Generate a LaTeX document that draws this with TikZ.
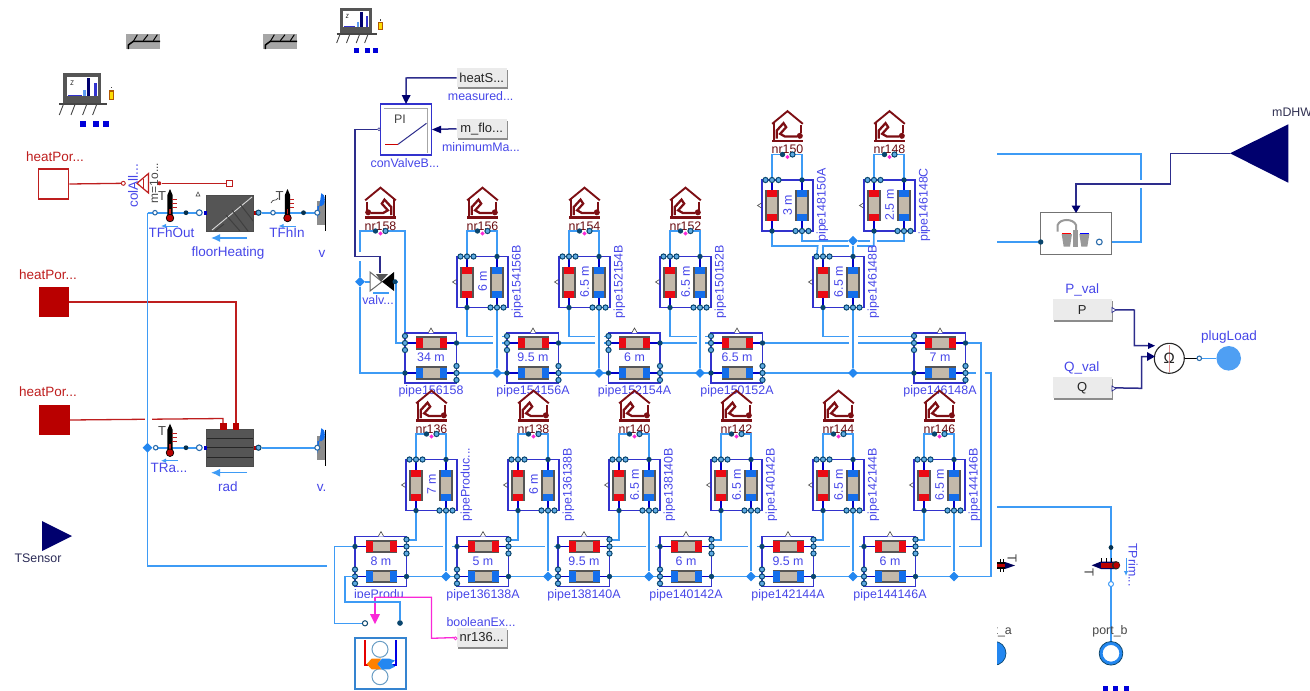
\documentclass[tikz,border=0pt]{standalone}
\usepackage{fontspec}
\setmainfont{Liberation Sans}
\usetikzlibrary{shapes.geometric,arrows.meta}
\definecolor{wireb}{RGB}{62,155,245}
\definecolor{ctrl}{RGB}{45,45,140}
\definecolor{navy}{RGB}{0,0,110}
\definecolor{lblb}{RGB}{70,70,232}
\definecolor{boxb}{RGB}{50,50,205}
\definecolor{stubb}{RGB}{0,0,200}
\definecolor{portd}{RGB}{10,70,110}
\definecolor{portl}{RGB}{95,170,225}
\definecolor{heat}{RGB}{190,30,30}
\definecolor{heatd}{RGB}{185,0,0}
\definecolor{pipered}{RGB}{235,10,20}
\definecolor{pipeblue}{RGB}{20,110,235}
\definecolor{pipemid}{RGB}{195,185,170}
\definecolor{pipedk}{RGB}{85,85,85}
\definecolor{housec}{RGB}{125,15,20}
\definecolor{pinkc}{RGB}{250,40,215}
\definecolor{jblue}{RGB}{35,135,240}
\definecolor{hxgray}{RGB}{85,85,85}
\definecolor{dkt}{RGB}{70,70,70}
\pgfdeclarelayer{wires}
\pgfsetlayers{wires,main}
\tikzset{
 wire/.style={draw=wireb,line width=1.6pt},
 ctl/.style={draw=ctrl,line width=1.5pt},
 hwire/.style={draw=heat,line width=1.3pt},
 pink/.style={draw=pinkc,line width=1.3pt},
 stub/.style={draw=stubb,line width=1.6pt},
 blkbox/.style={draw=boxb,line width=1.2pt,inner sep=0pt},
 lbl/.style={text=lblb,inner sep=0pt,font=\fontsize{12.4}{14}\selectfont},
 biglbl/.style={text=lblb,inner sep=0pt,font=\fontsize{13.5}{15}\selectfont},
 heatlbl/.style={text=heat,inner sep=0pt,font=\fontsize{13.5}{15}\selectfont},
 nrlbl/.style={text=housec!85!black,inner sep=0pt,font=\fontsize{12.4}{14}\selectfont},
 graylbl/.style={text=dkt,inner sep=0pt,font=\fontsize{13}{15}\selectfont},
 ptl/.style={circle,draw=portd,fill=portl,line width=1pt,inner sep=0pt,minimum size=5.2pt},
 ptw/.style={circle,draw=wireb!70!black,fill=white,line width=1.1pt,inner sep=0pt,minimum size=5.8pt},
 ptd/.style={circle,fill=portd,inner sep=0pt,minimum size=5.4pt},
 junc/.style={diamond,fill=jblue,inner sep=0pt,minimum size=10pt},
 blk/.style={circle,fill=portd!70!black,inner sep=0pt,minimum size=4.8pt},
 btn/.style={fill=black!8,inner sep=0pt,text=black!85,font=\fontsize{13}{15}\selectfont},
}
% pipes
\newcommand{\hpipe}[3]{\begin{scope}[shift={(#1,#2)}]
 \fill[pipedk] (-15.5,-6.7) rectangle (15.5,6.7);
 \fill[pipemid] (-15.5,-4.6) rectangle (15.5,4.6);
 \fill[#3] (-15.5,-5.2) rectangle (-8.5,5.2);
 \fill[#3] (8.5,-5.2) rectangle (15.5,5.2);
\end{scope}}
\newcommand{\vpipe}[3]{\begin{scope}[shift={(#1,#2)}]
 \fill[pipedk] (-6.7,-15.5) rectangle (6.7,15.5);
 \fill[pipemid] (-4.6,-15.5) rectangle (4.6,15.5);
 \fill[#3] (-5.2,-15.5) rectangle (5.2,-8.5);
 \fill[#3] (-5.2,8.5) rectangle (5.2,15.5);
\end{scope}}
% horizontal block: id,x,y,len,name,mode (0=top row,1=bottom row)
\newcommand{\hblk}[6]{\begin{scope}[shift={(#2,#3)}]
 \node[blkbox,minimum width=51.5pt,minimum height=50pt] (#1) at (25.75,25) {};
 \draw[stub] (0,10)--(51,10); \draw[stub] (0,40)--(51,40);
 \hpipe{26}{10}{pipered}\hpipe{26}{40}{pipeblue}
 \node[lbl] (#1-len) at (26,24.5) {#4};
 \node[lbl] (#1-name) at (26,58.5) {#5};
 \fill[white] (23.5,0) -- (26,-5) -- (28.5,0) -- cycle;
 \draw[dkt,line width=.6pt] (23.5,-.5) -- (26,-5) -- (28.5,-.5);
 \coordinate (#1-ul) at (0,10); \coordinate (#1-ur) at (51.5,10);
 \coordinate (#1-ll) at (0,40); \coordinate (#1-lr) at (51.5,40);
 \coordinate (#1-lt) at (0,3.5); \coordinate (#1-rt) at (51.5,3.5);
 \ifnum#6=0
  \node[ptl] at (0,3){};\node[ptl] at (0,10){};\node[ptl] at (0,17){};\node[ptd] at (51.5,10){};
  \node[ptd] at (0,40){};\node[ptl] at (51.5,33){};\node[ptl] at (51.5,40){};\node[ptl] at (51.5,47){};
 \else
  \node[ptd] at (0,10){};\node[ptl] at (51.5,3){};\node[ptl] at (51.5,10){};\node[ptl] at (51.5,17){};
  \node[ptl] at (0,33){};\node[ptl] at (0,40){};\node[ptl] at (0,47){};\node[ptd] at (51.5,40){};
 \fi
\end{scope}}
% vertical block: id,x,y,len,name
\newcommand{\vblk}[5]{\begin{scope}[shift={(#2,#3)}]
 \node[blkbox,minimum width=51pt,minimum height=51pt] (#1) at (25.5,25.5) {};
 \draw[stub] (10,0)--(10,51); \draw[stub] (40,0)--(40,51);
 \vpipe{10}{25.5}{pipered}\vpipe{40}{25.5}{pipeblue}
 \node[lbl,rotate=90] (#1-len) at (25.5,25) {#4};
 \node[lbl,rotate=90] (#1-name) at (60.5,25) {#5};
 \draw[dkt,line width=.6pt] (-.5,23) -- (-4.5,25.5) -- (-.5,28);
 \coordinate (#1-tl) at (10,0); \coordinate (#1-tr) at (40,0);
 \coordinate (#1-bl) at (10,51); \coordinate (#1-br) at (40,51);
 \coordinate (#1-ta) at (3.7,0);
 \node[ptl] at (3.5,0){};\node[ptl] at (10,0){};\node[ptl] at (16.5,0){};\node[ptd] at (40,0){};
 \node[ptd] at (10,51){};\node[ptl] at (33.5,51){};\node[ptl] at (40,51){};\node[ptl] at (46.5,51){};
\end{scope}}
% house: id,cx,top,name,mirror(+1/-1)
\newcommand{\house}[5]{\begin{scope}[shift={(#2,#3)}]
 \begin{scope}[xscale=#5/3,yscale=1/3]
  \draw[housec,line width=1.9pt] (-46,40) -- (0,2) -- (46,40);
  \draw[housec,line width=1.9pt] (-41,34) -- (-41,88);
  \draw[housec,line width=1.9pt] (40,44) -- (40,68);
  \draw[housec,line width=2.6pt] (-46,91) -- (46,91);
  \fill[housec] (37,76) circle (9);
  \draw[housec,line width=2.3pt] (-32,84) -- (-32,60) -- (-12,38) -- (-4,50) -- (-22,70) -- (-8,78) -- (28,78);
 \end{scope}
 \node[nrlbl] (#1-lab) at (0,39) {#4};
 \coordinate (#1-a) at (-5,44); \coordinate (#1-b) at (5,44);
 \node[ptd] (#1-pa) at (-5,44) {};
 \node[ptl] (#1-pb) at (5,44) {};
 \node[diamond,fill=pinkc,inner sep=0pt,minimum size=4.5pt] (#1-pk) at (0,46.5) {};
\end{scope}}
% thermometer vertical
\newcommand{\thermo}[3]{\begin{scope}[shift={(#2,#3)}]
 \fill[black] (0,-24) -- (2.6,-18) -- (2.6,4) -- (-2.6,4) -- (-2.6,-18) -- cycle;
 \draw[heat,line width=1pt] (2,-14)--(6.5,-14) (2,-10)--(6.5,-10) (2,-6)--(6.5,-6);
 \draw[heat,line width=1.2pt] (0,-4)--(0,4);
 \fill[heatd] (0,5) circle (3.8);
 \draw[black,line width=.7pt] (0,5) circle (3.8);
 \node[graylbl] (#1-T) at (-8,-17) {T};
 \draw[wireb,line width=1pt,-{Latex[length=5pt,width=4.5pt]}] (8,13) -- (-9,13);
\end{scope}}
% button
\newcommand{\button}[6]{\fill[black!45] (#2+1.5,#3+1.5) rectangle (#2+#4+1.2,#3+#5+1.6);
 \node[btn,minimum width=#4 pt,minimum height=#5 pt] (#1) at (#2+#4/2,#3+#5/2) {#6};}
% monitor
\newcommand{\monitor}[3]{\begin{scope}[shift={(#1,#2)},scale=#3]
 \fill[hxgray] (0,0) rectangle (113,90);
 \fill[white] (12,10) rectangle (103,68);
 \fill[pipeblue!70] (60,50) rectangle (67,68);
 \fill[navy] (72,14) rectangle (81,68);
 \fill[boxb] (92,30) rectangle (100,68);
 \draw[boxb,line width=.9pt] (15,65) -- (55,65);
 \draw[dkt,line width=.5pt] (22,22) -- (30,22) -- (22,34) -- (30,34);
 \draw[dkt,line width=1.6pt] (-12,92) -- (132,92);
 \foreach \q in {0,35,70,100} \draw[dkt,line width=.9pt] (\q,94) -- (\q-12,125);
 \fill[orange!70!black] (137,50) rectangle (153,80);
 \fill[yellow!80!orange] (141,55) rectangle (149,76);
 \fill[dkt] (143,40) rectangle (147,45);
 \fill[blue!85!black] (51,144) rectangle (69,162);
 \fill[blue!85!black] (88,144) rectangle (106,162);
 \fill[blue!85!black] (118,144) rectangle (136,162);
\end{scope}}
% wall
\newcommand{\wallicon}[2]{\begin{scope}[shift={(#1,#2)},scale=1/3]
 \fill[black!35] (0,0) rectangle (102,45);
 \draw[black,line width=1.5pt] (7,45) -- (7,33) -- (22,22) -- (102,22);
 \draw[black,line width=1pt] (22,22) -- (34,2) (52,20) -- (66,2) (82,20) -- (94,2);
\end{scope}}
% valve stub clipped at the frame
\newcommand{\valvecut}[2]{\begin{scope}[shift={(#1,#2)}]
 \fill[black!45] (0,-12) rectangle (7.5,12);
 \fill[pipeblue] (0,-6.5) -- (4,-6.5) arc (90:-90:3.5 and 6.5) -- (0,6.5) -- cycle;
 \draw[black,line width=1pt] (8,-18) -- (8,18);
 \node[ptw,minimum size=5pt] at (0,0) {};
\end{scope}}
% white cut where a wire passes behind another one
\newcommand{\gapat}[4]{\fill[white] (#1,#3) rectangle (#2,#4);}

\begin{document}
\begin{tikzpicture}[x=1pt,y=-1pt]
\useasboundingbox (0,0) rectangle (1310,691);

% ---------- icons at the top ----------
\wallicon{126}{34}
\wallicon{263}{34}
\monitor{63.3}{73.3}{1/3}
\monitor{340}{8}{0.28}

% ---------- heat ports ----------
\node[draw=heat,fill=white,line width=1.2pt,minimum size=30pt,inner sep=0pt] (hp1) at (53.7,184) {};
\node[fill=heatd,minimum size=30.5pt,inner sep=0pt] (hp2) at (54,302) {};
\node[fill=heatd,minimum size=30.5pt,inner sep=0pt] (hp3) at (54.5,420) {};
\node[heatlbl] (hp1l) at (55,157) {heatPor...};
\node[heatlbl] (hp2l) at (48,274.5) {heatPor...};
\node[heatlbl] (hp3l) at (48,391.5) {heatPor...};

% ---------- collector ----------
\node[draw=heat,fill=white,line width=.9pt,inner sep=0pt,minimum size=4pt,circle] (colL) at (123.3,183.3) {};
\node[circle,fill=heat,inner sep=0pt,minimum size=4pt] (colR) at (159.3,183.3) {};
\node[draw=heat,fill=white,line width=1.1pt,inner sep=0pt,minimum size=5.5pt] (tsq) at (229.5,183.3) {};
\draw[heat,line width=1.2pt,fill=white] (137,183.3) -- (148.5,173.5) -- (148.5,193) -- cycle;
\draw[heat,line width=.8pt] (143,179) -- (143,188);
\node[biglbl,rotate=90] (colAll) at (133,185.5) {colAll...};
\node[graylbl,rotate=90,font=\fontsize{12}{14}\selectfont] (colm) at (154,183) {m=1o...};

% ---------- floor heating ----------
\node[fill=hxgray,draw=black!70,line width=.9pt,minimum width=46.5pt,minimum height=36pt,inner sep=0pt] (fh) at (230,213) {};
\begin{scope}
 \clip (206.8,195) rectangle (253.2,231);
 \draw[white!70!gray,line width=.9pt] (212,230) -- (252,197);
 \draw[black!75,line width=1pt] (215,231) -- (224,224) (226,215) -- (240,231) (232,210) -- (248,231) (240,204) -- (254,222);
\end{scope}
\fill[stubb] (203.5,210.5) rectangle (207,215);
\fill[heatd] (253.5,210.5) rectangle (256.5,215);
\node[biglbl] (fhl) at (228,252.7) {floorHeating};
\draw[wireb,line width=1.3pt,-{Latex[length=9pt,width=8pt]}] (247,238) -- (211,238);
\draw[dkt,line width=.6pt] (196,196) -- (198,192) -- (200,196) -- cycle;
\node[ptw] (fhL) at (199.3,212.7) {};
\node[ptl] (fhR) at (258.5,212.7) {};
\node[blk] (td1) at (186,212.7) {};
\node[blk] (td2) at (303.5,212.7) {};
\node[ptw,minimum size=4.5pt] (tp1) at (155,212.7) {};
\node[ptw,minimum size=4.5pt] (tp2) at (273,212.7) {};
\thermo{tfo}{170}{213}
\thermo{tfi}{287.5}{213}
\draw[dkt,line width=.7pt] (271,203) .. controls (273,198) and (276,202) .. (278,198);
\begin{scope}
 \clip (149.5,222) rectangle (205,244);
 \node[biglbl] (tfol) at (171.5,233) {TFhOut};
\end{scope}
\node[biglbl] (tfil) at (287,233) {TFhIn};
\valvecut{317.3}{212.7}
\node[biglbl] (vcut1) at (322,253.5) {v};

% ---------- radiator ----------
\node[fill=hxgray,draw=black!70,line width=.9pt,minimum width=47pt,minimum height=36.5pt,inner sep=0pt] (rad) at (230,447.7) {};
\draw[black!85,line width=1pt] (207,438.5) -- (253,438.5) (207,447.7) -- (253,447.7) (207,457) -- (253,457);
\fill[heatd] (220.3,423) rectangle (226.5,429.5);
\fill[heatd] (233,423) rectangle (239,429.5);
\fill[stubb] (203.5,445.5) rectangle (207,450);
\fill[heatd] (253.5,445.5) rectangle (256.5,450);
\node[biglbl] (radl) at (228,487) {rad};
\draw[wireb,line width=1.3pt,-{Latex[length=9pt,width=8pt]}] (247,472.7) -- (211,472.7);
\node[ptw] (rdL) at (199.3,447.7) {};
\node[ptl] (rdR) at (258.5,447.7) {};
\node[blk] (td3) at (186,447.7) {};
\node[ptw,minimum size=4.5pt] (tp3) at (155.7,447.7) {};
\thermo{tra}{170}{447.7}
\node[biglbl] (tral) at (169,468) {TRa...};
\valvecut{317.3}{447.7}
\node[biglbl] (vcut2) at (321.5,488) {v.};
\node[junc] (jl) at (147.5,447.7) {};

% ---------- TSensor ----------
\fill[navy] (42,521) -- (72,536) -- (42,551) -- cycle;
\node[graylbl,text=dkt!60!navy,font=\fontsize{12.4}{14}\selectfont] (tsl) at (38,558) {TSensor};

% ---------- controller ----------
\button{heatS}{456.7}{68.3}{50}{19}{heatS...}
\node[lbl] (heatSl) at (480.7,96) {measured...};
\button{mflo}{456.7}{119.3}{50}{19}{m\_flo...}
\node[lbl] (mflol) at (481,147.3) {minimumMa...};
\node[draw=boxb,line width=1.2pt,fill=white,minimum size=51pt,inner sep=0pt] (pi) at (406,129.5) {};
\draw[black!35,line width=.8pt] (384,108.5) -- (427.3,108.5) -- (427.3,153);
\node[graylbl,font=\fontsize{12.4}{14}\selectfont] (pit) at (400,119) {PI};
\draw[red!80!black,line width=1pt] (385,144.3) -- (398,144.3);
\draw[ctrl,line width=1pt] (398,144.3) -- (426.5,123.3);
\node[lbl] (pil) at (405,163) {conValveB...};
\fill[navy] (401.7,95) -- (410.7,95) -- (406,104) -- cycle;
\fill[navy] (441,125.7) -- (441,133.3) -- (432,129.5) -- cycle;
\node[circle,draw=ctrl,fill=white,line width=.6pt,inner sep=0pt,minimum size=3pt] (piO) at (379,129.3) {};

% ---------- valve ----------
\draw[black!60,fill=white,line width=1pt] (370,272) -- (382,281.7) -- (370,291) -- cycle;
\fill[black] (394,272) -- (382,281.7) -- (394,291) -- cycle;
\fill[hxgray] (381,281.7) -- (376,274) -- (388,274) -- cycle;
\draw[wireb,line width=1.1pt] (373,293) -- (389,293);
\node[lbl] (vall) at (378,300) {valv...};
\node[ptd,minimum size=5pt] (valR) at (395,281.7) {};
\node[junc] (jv) at (360,281.7) {};
\coordinate (valL) at (370,281.7);
\coordinate (valT) at (380,273);

% ---------- top row pipe blocks ----------
\hblk{ha}{405}{333}{34 m}{pipe156158}{0}
\hblk{hb}{507}{333}{9.5 m}{pipe154156A}{0}
\hblk{hc}{608.5}{333}{6 m}{pipe152154A}{0}
\hblk{hd}{711}{333}{6.5 m}{pipe150152A}{0}
\hblk{he}{914}{333}{7 m}{pipe146148A}{0}

\vblk{va}{457}{256.5}{6 m}{pipe154156B}
\vblk{vb}{559}{256.5}{6.5 m}{pipe152154B}
\vblk{vc}{660}{256.5}{6.5 m}{pipe150152B}
\vblk{vd}{813}{256.5}{6.5 m}{pipe146148B}
\vblk{ve}{762}{180}{3 m}{pipe148150A}
\vblk{vf}{864}{180}{2.5 m}{pipe146148C}

\house{n158}{380.5}{187}{nr158}{-1}
\house{n156}{482.5}{187}{nr156}{1}
\house{n154}{584.5}{187}{nr154}{1}
\house{n152}{685.5}{187}{nr152}{1}
\house{n150}{787.5}{110.5}{nr150}{1}
\house{n148}{889.5}{110.5}{nr148}{1}

% ---------- bottom row pipe blocks ----------
\hblk{ba}{355}{536.5}{8 m}{}{1}
\hblk{bb}{457}{536.5}{5 m}{pipe136138A}{1}
\hblk{bc}{558}{536.5}{9.5 m}{pipe138140A}{1}
\hblk{bd}{660}{536.5}{6 m}{pipe140142A}{1}
\hblk{be}{762}{536.5}{9.5 m}{pipe142144A}{1}
\hblk{bf}{864}{536.5}{6 m}{pipe144146A}{1}

\vblk{la}{406}{459.5}{7 m}{pipeProduc...}
\vblk{lb}{508}{459.5}{6 m}{pipe136138B}
\vblk{lc}{609}{459.5}{6.5 m}{pipe138140B}
\vblk{ld}{711}{459.5}{6.5 m}{pipe140142B}
\vblk{le}{813}{459.5}{6.5 m}{pipe142144B}
\vblk{lf}{914}{459.5}{6.5 m}{pipe144146B}

\house{n136}{431.5}{390}{nr136}{1}
\house{n138}{533.5}{390}{nr138}{1}
\house{n140}{634.5}{390}{nr140}{1}
\house{n142}{736.5}{390}{nr142}{1}
\house{n144}{838.5}{390}{nr144}{1}
\house{n146}{939.5}{390}{nr146}{1}

% junctions
\node[junc] (j1) at (va-br |- ha-ll) {};
\node[junc] (j2) at (vb-br |- ha-ll) {};
\node[junc] (j3) at (vc-br |- ha-ll) {};
\node[junc] (j4) at (vd-tr |- ha-ll) {};
\node[junc] (j5) at (853,240.7) {};
\node[junc] (k1) at (la-br |- ba-ll) {};
\node[junc] (k2) at (lb-br |- ba-ll) {};
\node[junc] (k3) at (lc-br |- ba-ll) {};
\node[junc] (k4) at (ld-br |- ba-ll) {};
\node[junc] (k5) at (le-br |- ba-ll) {};
\node[junc] (k6) at (lf-br |- ba-ll) {};

% ---------- production unit ----------
\begin{scope}
 \clip (346,586) rectangle (410,597);
 \node[lbl] (baname) at (379,595) {ipeProdu};
\end{scope}
\node[draw=wireb!85!black,line width=1.1pt,minimum width=51pt,minimum height=51pt,inner sep=0pt] (prod) at (380.5,663.5) {};
\node[circle,draw=portl!70!gray,line width=1pt,minimum size=16pt,inner sep=0pt] (pc1) at (380,649.3) {};
\node[circle,draw=portl!70!gray,line width=1pt,minimum size=16pt,inner sep=0pt] (pc2) at (380,676.7) {};
\begin{scope}[shift={(320,390)},scale=1/3]
 \draw[red!90!black,line width=1.4pt] (135,750) -- (135,825) -- (150,825);
 \draw[blue!90!black,line width=1.4pt] (228,750) -- (228,825) -- (208,825);
 \fill[orange] (140,822) -- (155,806) -- (183,806) -- (175,822) -- (183,838) -- (155,838) -- cycle;
 \fill[jblue] (172,822) -- (186,806) -- (208,806) -- (225,812) -- (214,820) -- (225,830) -- (208,838) -- (186,838) -- cycle;
\end{scope}
\node[ptl,fill=white] (pL) at (365,623.3) {};
\node[ptd] (pR) at (400,623) {};
\coordinate (pinkT) at (375,597.3);
\button{boolb}{456.7}{628}{50}{19}{nr136...}
\node[lbl] (booll) at (481,622) {booleanEx...};
\draw[pink] (pinkT) -- (431.5,597.3) -- (431.5,638.3) -- (boolb.west);
\draw[pink] (pinkT) -- (375,614);
\fill[pinkc] (370,614) -- (380,614) -- (375,624) -- cycle;
\node[circle,draw=pinkc,fill=white,line width=.7pt,inner sep=0pt,minimum size=3pt] (boolO) at (455.5,638.3) {};
\draw[wire] (ba-ll) -- (345,576.5) -- (345,601.7) -- (400,601.7) -- (pR);
\node[ptd] (pR2) at (400,623) {};

% ---------- right-hand side ----------
\node[draw=black!55,fill=white,line width=1pt,minimum width=71pt,minimum height=41.5pt,inner sep=0pt] (dhw) at (1076.2,233.3) {};
\begin{scope}[shift={(990,90)},scale=1/3]
 \draw[black!40,line width=2pt] (203,425) -- (203,405) .. controls (210,385) and (250,385) .. (258,405) -- (258,470);
 \fill[black!40] (215,432) -- (246,432) -- (240,470) -- (221,470) -- cycle;
 \fill[black!40] (268,432) -- (298,432) -- (292,470) -- (274,470) -- cycle;
 \fill[black!40] (250,420) rectangle (263,470);
 \draw[red,line width=1.4pt] (217,430) -- (244,430);
 \draw[blue,line width=1.4pt] (271,430) -- (298,430);
\end{scope}
\node[ptd] (dhwL) at (1040.7,242) {};
\node[ptw] (dhwR) at (1099.3,242) {};
\fill[navy] (1230,153.3) -- (1288.3,124.3) -- (1288.3,182.7) -- cycle;
\coordinate (mtip) at (1230,153.3);
\node[graylbl,text=dkt!70!navy,font=\fontsize{12.4}{14}\selectfont,anchor=west] (mdl) at (1272,112) {mDHW};
\fill[navy] (1071.5,205.5) -- (1080.5,205.5) -- (1076,213) -- cycle;

\button{pval}{1052.7}{299.3}{59}{21}{P}
\node[biglbl] (pvl) at (1082.3,290) {P\_val};
\button{qval}{1052.7}{377.3}{59}{21}{Q}
\node[biglbl] (qvl) at (1081.7,368.3) {Q\_val};
\node[circle,draw=black!85,fill=white,line width=1.1pt,minimum size=30pt,inner sep=0pt] (omega) at (1169.3,358.3) {};
\draw[heat!50,line width=.5pt] (1169.3,345) -- (1169.3,372);
\node[inner sep=0pt,text=black!85,font=\fontsize{15}{17}\selectfont] (omegat) at (1169.3,358.3) {Ω};
\node[circle,fill=jblue!80!white,minimum size=24.6pt,inner sep=0pt] (plug) at (1228.7,358.3) {};
\node[biglbl] (plugl) at (1229,337.3) {plugLoad};
\node[ptw,minimum size=4.5pt] (plugp) at (1199.3,358.3) {};
\fill[navy] (1148,342.5) -- (1155,345.7) -- (1148,349) -- cycle;
\fill[navy] (1147,352) -- (1155,356.5) -- (1147,361) -- cycle;
\draw[ctrl,fill=white,line width=.7pt] (1112,307.5) -- (1116,310) -- (1112,312.5) -- cycle;
\draw[ctrl,fill=white,line width=.7pt] (1112,386) -- (1116,388.5) -- (1112,391) -- cycle;

% temperature sensors, right bottom
\fill[black] (997,562) rectangle (1005,569);
\fill[heatd] (997,563.5) rectangle (1006,567);
\fill[navy!80!black] (1005,562) -- (1015,565.5) -- (1005,569) -- cycle;
\draw[black,line width=.8pt] (1000,559) -- (1000,562) (1003,559) -- (1003,562) (1000,569) -- (1000,572) (1003,569) -- (1003,572);
\node[graylbl,rotate=-90] (tt1) at (1012,558) {T};
\fill[navy!85!black] (1091.7,565.3) -- (1101,561.5) -- (1115,561.5) -- (1115,569) -- (1101,569) -- cycle;
\fill[heatd] (1101,563) rectangle (1117,567.5);
\fill[black!85] (1116,565.3) circle (4.2);
\fill[heatd] (1116.5,565.3) circle (3);
\draw[black,line width=.8pt] (1101,558) -- (1101,561.5) (1106,558) -- (1106,561.5) (1111,558) -- (1111,561.5);
\node[graylbl,rotate=-90] (tt2) at (1089,572) {T};
\draw[wireb,line width=1pt,-{Latex[length=5pt,width=4.5pt]}] (1126,558) -- (1126,576);
\node[lbl,rotate=-90] (tpl) at (1133,565) {TPrim...};
\node[blk] (pd1) at (1111,547.5) {};
\node[circle,draw=wireb,fill=white,line width=1pt,minimum size=5pt,inner sep=0pt] (pd2) at (1111,584) {};
\node[graylbl,font=\fontsize{12.4}{14}\selectfont] (pbl) at (1110,631.7) {port\_b};
\node[circle,draw=jblue,line width=3.2pt,fill=white,minimum size=20pt,inner sep=0pt] (portb) at (1111,653.3) {};
\draw[portd,line width=.8pt] (1111,653.3) circle (11.8);
\fill[blue!85!black] (1103,686) rectangle (1108,691);
\fill[blue!85!black] (1113,686) rectangle (1118,691);
\fill[blue!85!black] (1124,686) rectangle (1129,691);
\begin{scope}
 \clip (997,622) rectangle (1020,680);
 \node[graylbl,font=\fontsize{12.4}{14}\selectfont,anchor=east] (pal) at (1012,631.7) {port\_a};
 \fill[jblue] (994,653.3) circle (12);
 \draw[portd,line width=.7pt] (994,653.3) circle (12);
\end{scope}
\coordinate (rb1) at (997,506.7);
\coordinate (rt1) at (997,154);
\coordinate (rt2) at (997,242);

% ---------- wires, beneath everything ----------
\begin{pgfonlayer}{wires}
 % red heat lines
 \draw[hwire] (hp1.east) -- (colL);
 \draw[hwire] (colR) -- (tsq);
 \draw[hwire] (hp2.east) -- (236,302) -- (236,424);
 \draw[hwire] (hp3.east) -- (223,418.5) -- (223,424);
 \gapat{144.5}{151.5}{415}{422}
 % left loops
 \draw[wire] (147.5,212.7) -- (fhL);
 \draw[wire] (fhR) -- (317.3,212.7);
 \draw[wire] (jl) -- (rdL);
 \draw[wire] (rdR) -- (317.3,447.7);
 \draw[wire] (147.5,212.7) -- (147.5,565.7) -- (327,565.7);
 % nr158 and the valve
 \draw[wire] (n158-a) -- (360,231) -- (jv);
 \draw[wire] (jv) -- (360,373) -- (ha-ll);
 \draw[wire] (jv) -- (valL);
 \draw[wire] (n158-b) -| (ha-lt);
 \draw[wire] (valR) -- (396,281.7) -- (396,343) -- (ha-ul);
 \gapat{356.5}{363.5}{252}{261}
 % controller
 \draw[ctl] (heatS.west) -- (406,78) -- (406,100);
 \draw[ctl] (mflo.west) -- (436,129.3);
 \draw[ctl] (piO) -- (355,129.3) -- (355,256.7) -- (380,256.7) -- (valT);
 % top row: trunks
 \draw[wire] (ha-ur) -- (hb-ul);
 \draw[wire] (hb-ur) -- (hc-ul);
 \draw[wire] (hc-ur) -- (hd-ul);
 \draw[wire] (hd-ur) -- (he-ul);
 \draw[wire] (ha-lr) -- (hb-ll);
 \draw[wire] (hb-lr) -- (hc-ll);
 \draw[wire] (hc-lr) -- (hd-ll);
 \draw[wire] (hd-lr) -- (he-ll);
 \draw[wire] (va-bl) |- (hb-lt);
 \draw[wire] (vb-bl) |- (hc-lt);
 \draw[wire] (vc-bl) |- (hd-lt);
 \draw[wire] (vd-bl) |- (he-lt);
 \gapat{493}{501.5}{334}{346}
 \gapat{595}{603.5}{334}{346}
 \gapat{697}{705}{334}{346}
 \gapat{849}{858}{334}{346}
 \draw[wire] (va-br) -- (j1);
 \draw[wire] (vb-br) -- (j2);
 \draw[wire] (vc-br) -- (j3);
 \draw[wire] (vd-br) -- (j4);
 % upper branch
 \draw[wire] (ve-br) |- (j5);
 \draw[wire] (j5) -| (vf-br);
 \draw[wire] (ve-bl) -- (772,246) -- (817.7,246) -- (vd-ta);
 \gapat{870}{877}{238}{244}
 \draw[wire] (vf-bl) -- (873.7,246) -- (823,246) -- (vd-tl);
 \gapat{849}{857}{244}{248}
 \draw[wire] (vd-tr) -- (j5);
 % right-hand risers
 \draw[wire] (he-lr) -- (991,373) -- (991,576.5) -- (bf-lr);
 \gapat{976}{985}{371}{375}
 \gapat{950.5}{959}{544.5}{548.5}
 \draw[wire] (he-ur) -- (981,343) -- (981,546.5) -- (bf-ur);
 \gapat{950.5}{959}{544.5}{548.5}
 % bottom row: trunks
 \draw[wire] (ba-ur) -- (bb-ul);
 \draw[wire] (bb-ur) -- (bc-ul);
 \draw[wire] (bc-ur) -- (bd-ul);
 \draw[wire] (bd-ur) -- (be-ul);
 \draw[wire] (be-ur) -- (bf-ul);
 \draw[wire] (ba-lr) -- (bb-ll);
 \draw[wire] (bb-lr) -- (bc-ll);
 \draw[wire] (bc-lr) -- (bd-ll);
 \draw[wire] (bd-lr) -- (be-ll);
 \draw[wire] (be-lr) -- (bf-ll);
 \gapat{442.5}{451.5}{544}{549}
 \gapat{544.5}{553.5}{544}{549}
 \gapat{645.5}{654.5}{544}{549}
 \gapat{747.5}{756.5}{544}{549}
 \gapat{849.5}{858.5}{544}{549}
 \draw[wire] (la-bl) |- (ba-rt);
 \draw[wire] (lb-bl) |- (bb-rt);
 \draw[wire] (lc-bl) |- (bc-rt);
 \draw[wire] (ld-bl) |- (bd-rt);
 \draw[wire] (le-bl) |- (be-rt);
 \draw[wire] (lf-bl) |- (bf-rt);
 \draw[wire] (la-br) -- (k1);
 \draw[wire] (lb-br) -- (k2);
 \draw[wire] (lc-br) -- (k3);
 \draw[wire] (ld-br) -- (k4);
 \draw[wire] (le-br) -- (k5);
 \draw[wire] (lf-br) -- (k6);
 % houses
 \draw[wire] (n156-a) -| (va-tl);
 \draw[wire] (n156-b) -| (va-tr);
 \draw[wire] (n154-a) -| (vb-tl);
 \draw[wire] (n154-b) -| (vb-tr);
 \draw[wire] (n152-a) -| (vc-tl);
 \draw[wire] (n152-b) -| (vc-tr);
 \draw[wire] (n150-a) -| (ve-tl);
 \draw[wire] (n150-b) -| (ve-tr);
 \draw[wire] (n148-a) -| (vf-tl);
 \draw[wire] (n148-b) -| (vf-tr);
 \draw[wire] (n136-a) -| (la-tl);
 \draw[wire] (n136-b) -| (la-tr);
 \draw[wire] (n138-a) -| (lb-tl);
 \draw[wire] (n138-b) -| (lb-tr);
 \draw[wire] (n140-a) -| (lc-tl);
 \draw[wire] (n140-b) -| (lc-tr);
 \draw[wire] (n142-a) -| (ld-tl);
 \draw[wire] (n142-b) -| (ld-tr);
 \draw[wire] (n144-a) -| (le-tl);
 \draw[wire] (n144-b) -| (le-tr);
 \draw[wire] (n146-a) -| (lf-tl);
 \draw[wire] (n146-b) -| (lf-tr);
 % production loop
 \draw[wire] (ba-ul) -- (334.3,546.5) -- (334.3,623.3) -- (pL);
 % right side
 \draw[wire] (rb1) -- (1111,506.7) -- (portb);
 \draw[wire] (rt2) -- (dhwL);
 \draw[wire] (dhwR) -- (1141,242) -- (1141,154) -- (rt1);
 \gapat{1138}{1144}{180}{188}
 \draw[ctl] (mtip) -- (1170.7,153.3) -- (1170.7,184) -- (1076,184) -- (1076,206);
 \draw[ctl] (pval.east) -- (1134.3,310) -- (1134.3,345.7) -- (1150,345.7);
 \draw[ctl] (qval.east) -- (1141.7,388.3) -- (1141.7,356.5) -- (1150,356.5);
 \draw[black,line width=1.2pt] (omega.east) -- (plugp);
 \draw[wire] (plugp) -- (plug);
\end{pgfonlayer}
\end{tikzpicture}
\end{document}
